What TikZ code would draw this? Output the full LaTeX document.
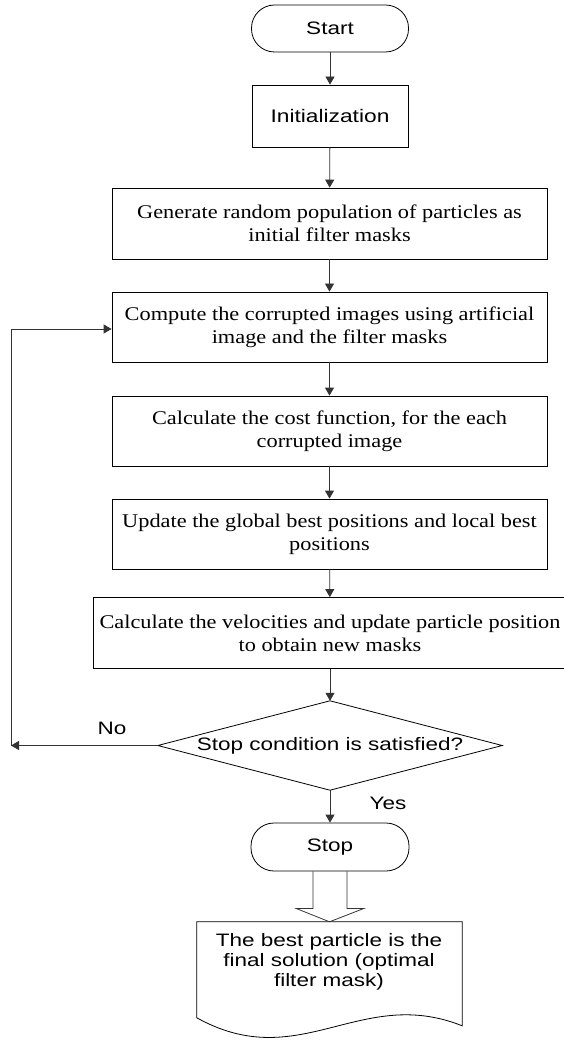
\documentclass[tikz,border=0pt]{standalone}
\usepackage{fontspec}
\setmainfont{Liberation Serif}
\newfontfamily\boxserif[FakeStretch=1.15]{Liberation Serif}
\newfontfamily\boxsans[FakeStretch=1.25]{Liberation Sans}
\usetikzlibrary{arrows.meta,calc}
\tikzset{
  ln/.style={line width=0.8pt, draw=black},
  arr/.style={line width=0.8pt, draw=black!80, -{Triangle[length=8pt,width=9pt]}},
  procbox/.style={ln, rectangle, inner sep=0pt, align=center, minimum width=435pt, minimum height=70pt,
    font=\boxserif\fontsize{19.4}{23}\selectfont},
  termbox/.style={ln, rectangle, rounded corners=23pt, inner sep=0pt, minimum width=157pt, minimum height=47pt,
    font=\boxsans\fontsize{18}{20}\selectfont},
  sanstext/.style={inner sep=0pt, align=center, font=\boxsans\fontsize{18}{20}\selectfont},
}
\begin{document}
\begin{tikzpicture}[x=1pt,y=-1pt]
\useasboundingbox (0,0) rectangle (563,1040);
\node[termbox] (start) at (330,28.5) {Start};
\node[ln, rectangle, inner sep=0pt, minimum width=156pt, minimum height=62pt,
  font=\boxsans\fontsize{18.2}{20}\selectfont] (init) at (330,116) {Initialization};
\node[procbox, minimum height=71pt] (gen) at (329.5,223.5) {Generate random population of particles as\\initial filter masks};
\node[procbox] (comp) at (329.5,327) {Compute the corrupted images using artificial\\image and the filter masks};
\node[procbox] (cost) at (329.5,431) {Calculate the cost function, for the each\\corrupted image};
\node[procbox] (upd) at (329.5,534) {Update the global best positions and local best\\positions};
\node[procbox, minimum width=474pt, minimum height=71pt] (vel) at (330,633) {Calculate the velocities and update particle position\\to obtain new masks};
\node[sanstext, minimum width=344pt, minimum height=89pt] (dia) at (330,745.5) {Stop condition is satisfied?};
\draw[ln] (dia.north) -- (dia.east) -- (dia.south) -- (dia.west) -- cycle;
\node[termbox, minimum width=158pt, minimum height=48pt] (stop) at (330,847) {Stop};
\node[inner sep=0pt, minimum width=265pt, minimum height=96pt] (doc) at (329.5,970) {};
\node[sanstext] (doctext) at (329,962) {The best particle is the\\final solution (optimal\\filter mask)};
\draw[ln] (doc.north west) -- (doc.north east) -- ($(doc.north east)+(0,104)$)
  .. controls (360,985) and (300,1075) .. ($(doc.north west)+(0,96)$) -- cycle;
\node[sanstext] (no) at (112,728) {No};
\node[sanstext] (yes) at (388,803) {Yes};
\coordinate (loopc) at (11,745.5);
\draw[arr] (start) -- (init);
\draw[arr] (init) -- (gen);
\draw[arr] (gen) -- (comp);
\draw[arr] (comp) -- (cost);
\draw[arr] (cost) -- (upd);
\draw[arr] (upd) -- (vel);
\draw[arr] (vel) -- (dia.north);
\draw[arr] (dia.south) -- (stop);
\draw[arr] (dia.west) -- (loopc);
\draw[arr] (loopc) |- ($(comp.west)+(0,2)$);
\draw[ln, draw=black!80] ($(stop.south)+(-17,0)$) -- ($(stop.south)+(-17,37)$) -- ($(stop.south)+(-34,37)$)
  -- (doc.north) -- ($(stop.south)+(34,37)$) -- ($(stop.south)+(17,37)$) -- ($(stop.south)+(17,0)$);
\end{tikzpicture}
\end{document}
